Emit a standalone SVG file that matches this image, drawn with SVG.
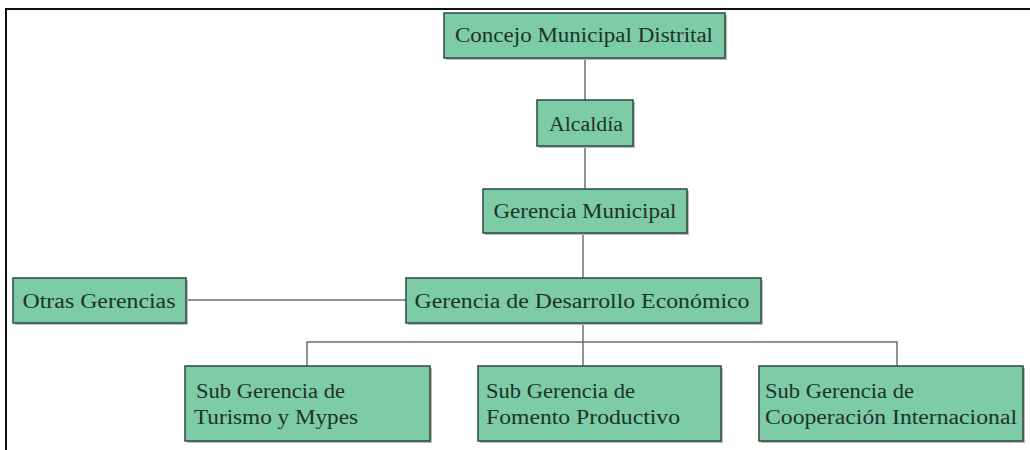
<svg xmlns="http://www.w3.org/2000/svg" width="1030" height="450" viewBox="0 0 1030 450">
<style>
.box{fill:#7ecba7;stroke:#2d4a3c;stroke-width:1.5}
.sh{fill:#b9b9b9}
.t{font-family:"Liberation Serif",serif;font-size:20px;fill:#1c3328}
.c{text-anchor:middle}
.ln{stroke:#6e6e6e;stroke-width:1.5;fill:none}
</style>
<rect x="0" y="0" width="1030" height="450" fill="#ffffff"/>
<path d="M6,450 V9 H1030" fill="none" stroke="#111" stroke-width="2"/>
<g id="connectors">
<line class="ln" x1="585" y1="58" x2="585" y2="100"/>
<line class="ln" x1="585" y1="146" x2="585" y2="189"/>
<line class="ln" x1="583" y1="233" x2="583" y2="278"/>
<line class="ln" x1="186" y1="300" x2="406" y2="300"/>
<line class="ln" x1="583" y1="323" x2="583" y2="366"/>
<polyline class="ln" points="307,366 307,342 897,342 897,366"/>
</g>
<g id="n1"><rect class="sh" x="446" y="15" width="281" height="45"/><rect class="box" x="444" y="13" width="281" height="45"/><text class="t c" x="584" y="42" textLength="258" lengthAdjust="spacingAndGlyphs">Concejo Municipal Distrital</text></g>
<g id="n2"><rect class="sh" x="539" y="102" width="96" height="46"/><rect class="box" x="537" y="100" width="96" height="46"/><text class="t c" x="586" y="131" textLength="74" lengthAdjust="spacingAndGlyphs">Alcaldía</text></g>
<g id="n3"><rect class="sh" x="485" y="191" width="204" height="44"/><rect class="box" x="483" y="189" width="204" height="44"/><text class="t c" x="585" y="218" textLength="183" lengthAdjust="spacingAndGlyphs">Gerencia Municipal</text></g>
<g id="n4"><rect class="sh" x="15" y="280" width="173" height="45"/><rect class="box" x="13" y="278" width="173" height="45"/><text class="t c" x="99" y="308" textLength="153" lengthAdjust="spacingAndGlyphs">Otras Gerencias</text></g>
<g id="n5"><rect class="sh" x="408" y="280" width="355" height="45"/><rect class="box" x="406" y="278" width="355" height="45"/><text class="t c" x="582" y="308" textLength="335" lengthAdjust="spacingAndGlyphs">Gerencia de Desarrollo Económico</text></g>
<g id="n6"><rect class="sh" x="187" y="368" width="245" height="75"/><rect class="box" x="185" y="366" width="245" height="75"/><text class="t" x="196" y="398" textLength="149" lengthAdjust="spacingAndGlyphs">Sub Gerencia de</text><text class="t" x="194" y="424" textLength="164" lengthAdjust="spacingAndGlyphs">Turismo y Mypes</text></g>
<g id="n7"><rect class="sh" x="480" y="368" width="243" height="75"/><rect class="box" x="478" y="366" width="243" height="75"/><text class="t" x="486" y="398" textLength="149" lengthAdjust="spacingAndGlyphs">Sub Gerencia de</text><text class="t" x="486" y="424" textLength="194" lengthAdjust="spacingAndGlyphs">Fomento Productivo</text></g>
<g id="n8"><rect class="sh" x="761" y="368" width="264" height="75"/><rect class="box" x="759" y="366" width="264" height="75"/><text class="t" x="765" y="398" textLength="149" lengthAdjust="spacingAndGlyphs">Sub Gerencia de</text><text class="t" x="765" y="424" textLength="252" lengthAdjust="spacingAndGlyphs">Cooperación Internacional</text></g>
</svg>
